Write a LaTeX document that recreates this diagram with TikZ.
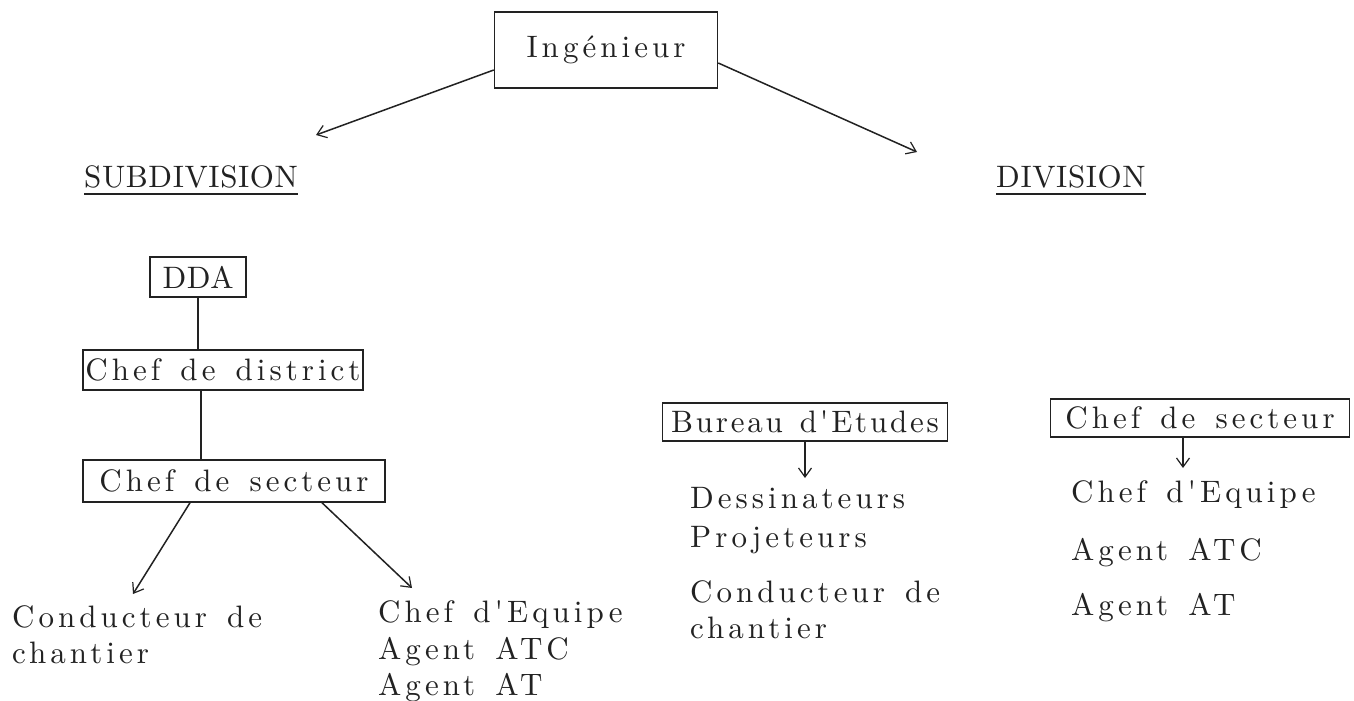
\documentclass[tikz,border=0pt]{standalone}
\usepackage{fontspec}
\usetikzlibrary{arrows.meta}
\definecolor{ink}{RGB}{34,34,34}
\newfontfamily\twf{lmroman10-regular.otf}[LetterSpace=13,WordSpace=1.4]
\newfontfamily\twn{lmroman10-regular.otf}[LetterSpace=9,WordSpace=1.3]
\newfontfamily\twc{lmroman10-regular.otf}[LetterSpace=2]
\newcommand{\tw}{\twf\fontsize{31}{36}\selectfont}
\newcommand{\tn}{\twn\fontsize{31}{36}\selectfont}
\newcommand{\tc}{\twc\fontsize{31}{36}\selectfont}
\begin{document}
\begin{tikzpicture}[x=1pt,y=-1pt,
  lab/.style={font=\tw, text=ink, inner sep=0pt, anchor=base west},
  boxn/.style={draw=ink, line width=1.5pt, font=\tw, text=ink, inner sep=0pt},
  con/.style={draw=ink, line width=1.5pt},
  arr/.style={con, -{Straight Barb[length=9pt,width=13pt,line width=1.2pt]}}]
\useasboundingbox[fill=white] (0,0) rectangle (1354,701);

% boxes
\node[boxn, minimum width=223, minimum height=76] (ing) at (606,50) {Ingénieur};
\node[boxn, font=\tc, minimum width=96, minimum height=40] (dda) at (198,277) {DDA};
\node[boxn, minimum width=280, minimum height=40] (dist) at (223,370) {Chef de district};
\node[boxn, minimum width=302, minimum height=42] (sec1) at (234,481) {Chef de secteur};
\node[boxn, font=\tn, minimum width=285, minimum height=38] (bur) at (805,422) {Bureau d'Etudes};
\node[boxn, minimum width=299, minimum height=38] (sec2) at (1200,418) {Chef de secteur};

% headings
\node[lab, font=\tc] (sub) at (84,187) {SUBDIVISION};
\node[lab, font=\tc] (div) at (996,187) {DIVISION};
\draw[con] ([yshift=-6pt]sub.south west) -- ([yshift=-6pt]sub.south east);
\draw[con] ([yshift=-6pt]div.south west) -- ([yshift=-6pt]div.south east);

% free arrow ends
\coordinate (subtip) at (316,135);
\coordinate (divtip) at (917,152);
\coordinate (c1tip) at (133,594);
\coordinate (c2tip) at (412,588);
\coordinate (burtip) at (805,478);
\coordinate (sec2tip) at (1183,468);

% connectors
\draw[arr] ([yshift=-20pt]ing.west) -- (subtip);
\draw[arr] ([yshift=-13pt]ing.east) -- (divtip);
\draw[con] (dda.south) -- (dda.south |- dist.north);
\draw[con] ([xshift=3pt]dda.south |- dist.south) -- ([xshift=3pt]dda.south |- sec1.north);
\draw[arr] ([xshift=-44pt]sec1.south) -- (c1tip);
\draw[arr] ([xshift=88pt]sec1.south) -- (c2tip);
\draw[arr] (bur.south) -- (burtip);
\draw[arr] ([xshift=-17pt]sec2.south) -- (sec2tip);

% subdivision lists
\node[lab] (l1) at (12,627) {Conducteur de};
\node[lab] (l2) at (12,663) {chantier};
\node[lab] (r1) at (378,622) {Chef d'Equipe};
\node[lab] (r2) at (378,659) {Agent ATC};
\node[lab] (r3) at (378,695) {Agent AT};

% division lists
\node[lab] (m1) at (690,508) {Dessinateurs};
\node[lab] (m2) at (690,547) {Projeteurs};
\node[lab] (m3) at (690,602) {Conducteur de};
\node[lab] (m4) at (690,638) {chantier};
\node[lab] (s1) at (1071,502) {Chef d'Equipe};
\node[lab] (s2) at (1071,560) {Agent ATC};
\node[lab] (s3) at (1071,615) {Agent AT};
\end{tikzpicture}
\end{document}
